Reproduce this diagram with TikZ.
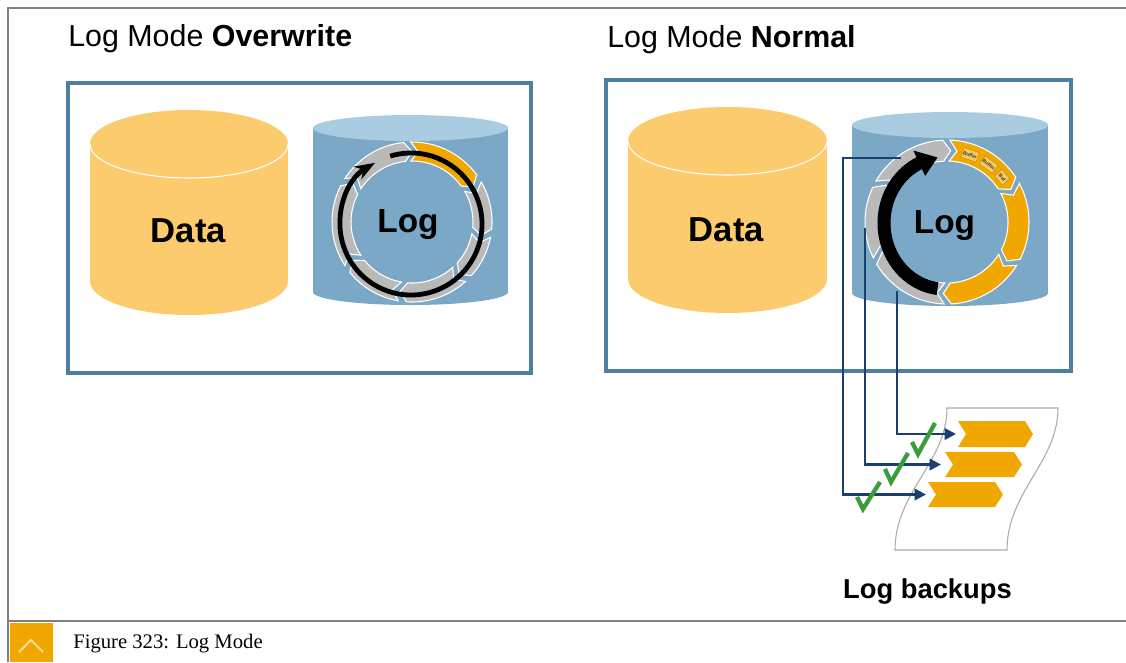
\documentclass[tikz,border=0pt]{standalone}
\usepackage{fontspec}
\setmainfont{Liberation Sans}
\newfontfamily\serifcap{Liberation Serif}
\usetikzlibrary{arrows.meta}

\definecolor{framegray}{HTML}{808080}
\definecolor{boxblue}{HTML}{4F7FA0}
\definecolor{dataorange}{HTML}{FBCB6D}
\definecolor{logbody}{HTML}{7BA8C7}
\definecolor{logtop}{HTML}{AACCE0}
\definecolor{segorange}{HTML}{F0A800}
\definecolor{seggray}{HTML}{B9B9B9}
\definecolor{navy}{HTML}{1C3F72}
\definecolor{tickgreen}{HTML}{3A9C3A}
\definecolor{papergray}{HTML}{ABABAB}
\definecolor{bufferfill}{HTML}{F8C862}

% one chevron-shaped piece of a log ring: start angle, end angle (clockwise),
% inner radius, outer radius, style
\newcommand\ringpart[5]{%
  \path[#5] (#1:#4) arc[start angle=#1,end angle=#2,radius=#4]
    -- ({#2-6}:{(#3+#4)/2}) -- (#2:#3)
    arc[start angle=#2,end angle=#1,radius=#3]
    -- ({#1-6}:{(#3+#4)/2}) -- cycle;}

% data cylinder: centre x, top centre y, bottom centre y, x radius
\newcommand\datacyl[4]{%
  \fill[dataorange] ({#1-#4},#2) rectangle ({#1+#4},#3);
  \fill[dataorange] (#1,#3) ellipse[x radius=#4,y radius=34];
  \fill[dataorange] (#1,#2) ellipse[x radius=#4,y radius=34];
  \draw[white,line width=0.8pt] ({#1-#4},#2)
    arc[start angle=180,end angle=0,x radius=#4,y radius=34];}

% log cylinder: centre x, top centre y, bottom centre y, x radius
\newcommand\logcyl[4]{%
  \fill[logbody] ({#1-#4},#2) rectangle ({#1+#4},#3);
  \fill[logbody] (#1,#3) ellipse[x radius=#4,y radius=13];
  \fill[logtop] (#1,#2) ellipse[x radius=#4,y radius=13];}

\tikzset{
  modebox/.style={draw=boxblue,line width=2.5pt},
  seg/.style={fill=seggray,draw=white,line width=0.8pt},
  sego/.style={fill=segorange,draw=white,line width=0.8pt},
  title/.style={anchor=base west,font=\fontsize{22.8pt}{26pt}\selectfont},
  bigword/.style={font=\bfseries\fontsize{26pt}{30pt}\selectfont,inner sep=0pt},
  logword/.style={anchor=base,font=\bfseries\fontsize{25pt}{29pt}\selectfont,inner sep=0pt},
  buf/.style={fill=bufferfill,draw=segorange!80!black,line width=0.3pt,
    font=\bfseries\fontsize{3.6pt}{4pt}\selectfont,text=black!80,
    inner sep=0.5pt,minimum width=12pt,minimum height=7.5pt},
  conn/.style={draw=navy,line width=1.8pt,-{Triangle[length=8.5pt,width=8.5pt]}},
  tick/.style={draw=tickgreen,line width=3.2pt},
  chev/.style={fill=segorange}
}

\begin{document}
\begin{tikzpicture}[x=0.75pt,y=-0.75pt]
\useasboundingbox (0,0) rectangle (1126,662);
\fill[white] (0,0) rectangle (1126,662);

% page frame and caption
\draw[framegray,line width=1.5pt] (8,662) -- (8,8) -- (1126,8);
\draw[framegray,line width=1.5pt] (8,621) -- (1126,621);
\fill[segorange] (10,623) rectangle (53,662);
\draw[white,opacity=0.6,line width=1.4pt] (19,652) -- (31,640) -- (43,652);
\node[anchor=base west,font=\serifcap\fontsize{15.5pt}{18pt}\selectfont,inner sep=0pt]
  (caption) at (73,648) {Figure 323: Log Mode};

% titles
\node[title,inner sep=0pt] (t1) at (68,46) {Log Mode \textbf{Overwrite}};
\node[title,inner sep=0pt] (t2) at (607,47) {Log Mode \textbf{Normal}};

% boxes
\draw[modebox] (68,83) rectangle (531,373);
\draw[modebox] (606,80) rectangle (1071,371);

% ---------- overwrite mode ----------
\datacyl{189}{144}{281}{99}
\node[bigword] (data1) at (188.5,231) {Data};
\logcyl{410.5}{128}{292}{97.5}

\begin{scope}[shift={(412,222)},yscale=-1]
  \ringpart{91}{36}{61}{80}{sego}
  \foreach \s/\e in {30/-5,-11/-42,-48/-94,-100/-141,-147/-207,147/96}
    {\ringpart{\s}{\e}{61}{80}{seg}}
\end{scope}
\node[logword] (log1) at (408,232) {Log};
\begin{scope}[shift={(411,224)},yscale=-1]
  \draw[line width=3.6pt,-{Stealth[length=15pt,width=11pt]}]
    (107:71) arc[start angle=107,end angle=-239.5,radius=71];
\end{scope}

% ---------- normal mode ----------
\datacyl{727.5}{141}{279}{99.5}
\node[bigword] (data2) at (726.5,229.5) {Data};
\logcyl{950}{125}{293}{98}

\begin{scope}[shift={(947,222)},yscale=-1]
  \foreach \s/\e in {150/93,206/155,268/211}
    {\ringpart{\s}{\e}{61}{82}{seg}}
  \foreach \s/\e in {88/33,28/-27,-32/-87}
    {\ringpart{\s}{\e}{61}{82}{sego}}
  \node[buf,rotate=-19] (bf1) at (71:71) {Buffer};
  \node[buf,rotate=-36] (bf2) at (54:71) {Buffer};
  \node[buf,rotate=-50,minimum width=9pt] (bf3) at (39:71) {Buf};
\end{scope}
\node[logword] (log2) at (944.5,233) {Log};

% thick backup arrow
\begin{scope}[shift={(945,223)},yscale=-1]
  \fill[black] ({67.5*cos(-97)},{72.5*sin(-97)})
    arc[start angle=-97,end angle=-245,x radius=67.5,y radius=72.5]
    -- ({75*cos(115)},{80*sin(115)})
    -- ({61*cos(97)},{66*sin(97)})
    -- ({47*cos(115)},{52*sin(115)})
    -- ({54.5*cos(115)},{59.5*sin(115)})
    arc[start angle=115,end angle=263,x radius=54.5,y radius=59.5]
    -- cycle;
\end{scope}

% backup sheet
\draw[papergray,fill=white,line width=0.8pt]
  (947,408) -- (1058,408) .. controls (1058,462) and (1007,492) .. (1007,550)
  -- (895,550) .. controls (895,492) and (947,462) .. (947,408) -- cycle;
\path[chev] (958,421) -- (1025,421) -- (1033,434) -- (1025,447) -- (958,447) -- (966,434) -- cycle;
\path[chev] (945,452) -- (1014,452) -- (1022,464.5) -- (1014,477) -- (945,477) -- (953,464.5) -- cycle;
\path[chev] (928,482) -- (995,482) -- (1003,494.5) -- (995,507) -- (928,507) -- (936,494.5) -- cycle;
\coordinate (e3) at (956,434);
\coordinate (e2) at (941,464.5);
\coordinate (e1) at (926,494.5);

% connectors from the ring to the backups
\coordinate (s1) at (901,158);
\coordinate (k1) at (843,158);
\coordinate (s2) at (865,228);
\coordinate (s3) at (897,291);
\draw[conn] (s1) -- (k1) |- (e1);
\draw[conn] (s2) |- (e2);
\draw[conn] (s3) |- (e3);

% check marks
\draw[tick] (857,497) -- (863,509) -- (880,482);
\draw[tick] (885,469) -- (891,482) -- (908,453);
\draw[tick] (912,442) -- (918,454) -- (935,423);

\node[anchor=base,font=\bfseries\fontsize{20.5pt}{24pt}\selectfont,inner sep=0pt]
  (backups) at (927.5,598) {Log backups};
\end{tikzpicture}
\end{document}
